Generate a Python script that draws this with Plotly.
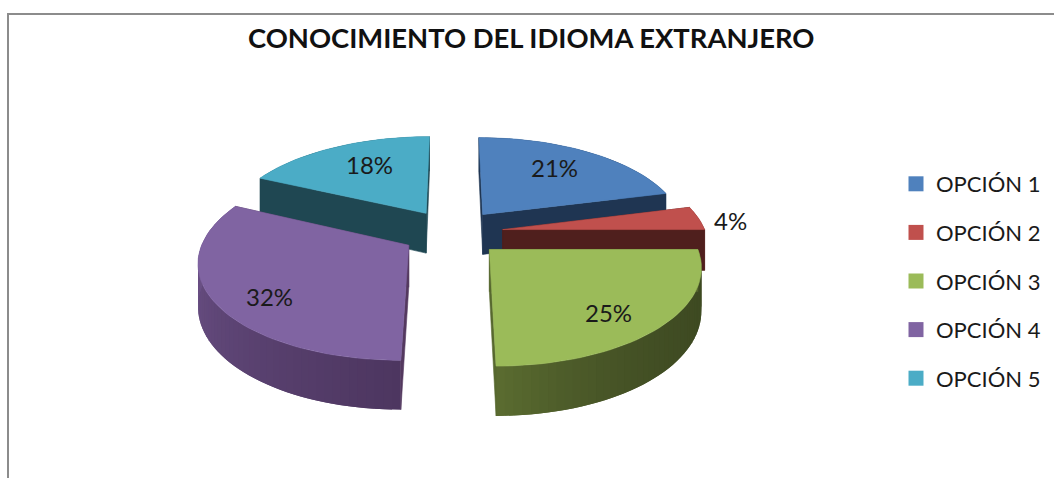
"""Exploded 3D-look pie: conocimiento del idioma extranjero."""

from __future__ import annotations

import numpy as np
import plotly.graph_objects as go

OPTIONS = ["OPCIÓN 1", "OPCIÓN 2", "OPCIÓN 3", "OPCIÓN 4", "OPCIÓN 5"]
SHARES = [21, 4, 25, 32, 18]
TOP_COLORS = ["#4f81bd", "#c0504d", "#9bbb59", "#8064a2", "#4bacc6"]
FACE_COLORS = ["#1f3552", "#4f1f1d", "#57682f", "#54395f", "#1f4752"]
WALL_START = ["#2f4d72", "#73302e", "#3e4a22", "#4d3660", "#2d6778"]
WALL_END = ["#2f4d72", "#73302e", "#5a6b30", "#72578f", "#2d6778"]
WALL_RAMP = [1, 1, 3, 1, 1]
DRAW_ORDER = [4, 0, 1, 3, 2]
LABEL_X = [554, 730, 608, 269, 369]
LABEL_Y = [167, 220, 312, 296, 164]

WIDTH, HEIGHT = 1054, 478
CX, CY = 452.5, 232.5
RX, RY = 203, 93.5
PERSPECTIVE = 0.15
EXPLODE = 0.25
THICKNESS = 41


def project(px, pz, drop=0.0):
    w = 1 + PERSPECTIVE * pz
    return CX + RX * px / w, CY - RY * pz / w + drop * THICKNESS / w


def blend(a, b, t):
    ca = [int(a[i:i + 2], 16) for i in (1, 3, 5)]
    cb = [int(b[i:i + 2], 16) for i in (1, 3, 5)]
    return "#" + "".join(f"{round(x + (y - x) * t):02x}" for x, y in zip(ca, cb))


def polygon(xs, ys, color, width=0.6):
    return go.Scatter(
        x=list(xs), y=list(ys), mode="lines", fill="toself", fillcolor=color,
        line={"color": color, "width": width}, showlegend=False, hoverinfo="skip",
    )


fig = go.Figure()

edges = np.cumsum([0] + SHARES) / sum(SHARES) * 2 * np.pi
for i in DRAW_ORDER:
    start, end = edges[i], edges[i + 1]
    mid = (start + end) / 2
    ox, oz = EXPLODE * np.sin(mid), EXPLODE * np.cos(mid)
    angles = np.linspace(start, end, max(6, int(np.degrees(end - start) / 2)))
    rim_x, rim_z = ox + np.sin(angles), oz + np.cos(angles)

    # outer wall, cut into overlapping strips for the shading
    for k in range(len(angles) - 1):
        stop = min(k + 2, len(angles) - 1)
        xa, ya = project(rim_x[k], rim_z[k])
        xb, yb = project(rim_x[stop], rim_z[stop])
        xc, yc = project(rim_x[stop], rim_z[stop], 1)
        xd, yd = project(rim_x[k], rim_z[k], 1)
        shade = blend(WALL_START[i], WALL_END[i], (k / (len(angles) - 2)) ** WALL_RAMP[i])
        fig.add_trace(polygon([xa, xb, xc, xd, xa], [ya, yb, yc, yd, ya], shade, 0))

    # cut faces running from the apex to the rim
    for k in (0, -1):
        xa, ya = project(ox, oz)
        xb, yb = project(rim_x[k], rim_z[k])
        xc, yc = project(rim_x[k], rim_z[k], 1)
        xd, yd = project(ox, oz, 1)
        fig.add_trace(polygon([xa, xb, xc, xd, xa], [ya, yb, yc, yd, ya], FACE_COLORS[i]))

    top_x, top_y = project(np.r_[ox, rim_x, ox], np.r_[oz, rim_z, oz])
    fig.add_trace(polygon(top_x, top_y, TOP_COLORS[i]))

for name, color in zip(OPTIONS, TOP_COLORS):
    fig.add_trace(go.Scatter(
        x=[None], y=[None], mode="markers", name=name, legendgroup=name,
        marker={"symbol": "square", "size": 15, "color": color},
    ))

for share, x, y in zip(SHARES, LABEL_X, LABEL_Y):
    fig.add_annotation(x=x, y=y, text=f"{share}%", showarrow=False,
                       font={"family": "Lato", "size": 24, "color": "#1a1a1a"})

fig.add_annotation(x=531, y=37, text="<b>CONOCIMIENTO DEL IDIOMA EXTRANJERO</b>", showarrow=False,
                   font={"family": "Lato", "size": 27.4, "color": "#111111"})

fig.add_shape(type="line", x0=8, x1=WIDTH, y0=14, y1=14, line={"color": "#8c8c8c", "width": 2})
fig.add_shape(type="line", x0=8, x1=8, y0=13, y1=HEIGHT, line={"color": "#8c8c8c", "width": 2})

fig.update_layout(
    width=WIDTH, height=HEIGHT, margin={"l": 0, "r": 0, "t": 0, "b": 0},
    paper_bgcolor="white", plot_bgcolor="white", hovermode=False,
    xaxis={"range": [0, WIDTH], "visible": False, "fixedrange": True},
    yaxis={"range": [HEIGHT, 0], "visible": False, "fixedrange": True},
    legend={
        "x": 896 / WIDTH, "y": 1 - 163 / HEIGHT, "xanchor": "left", "yanchor": "top",
        "traceorder": "grouped", "tracegroupgap": 17, "bgcolor": "rgba(0,0,0,0)",
        "font": {"family": "Lato", "size": 22, "color": "#1a1a1a"},
    },
)

fig.write_html("out.html", config={"displayModeBar": False},
               post_script="document.body.style.margin = '0'; document.body.style.overflow = 'hidden';")
